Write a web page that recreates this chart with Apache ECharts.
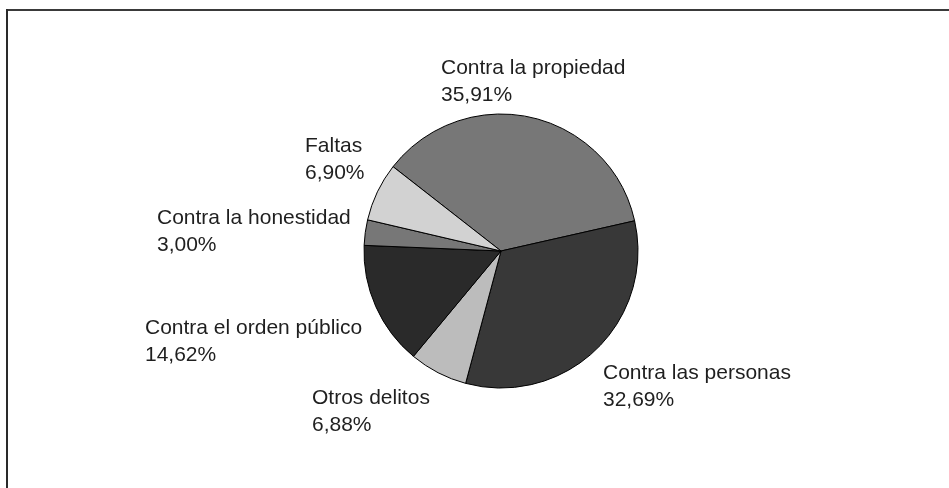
<!DOCTYPE html>
<html>
<head>
<meta charset="utf-8">
<script src="https://cdn.jsdelivr.net/npm/echarts@6/dist/echarts.min.js"></script>
<style>
html,body{margin:0;padding:0;background:#fff;}
#chart{width:949px;height:488px;}
</style>
</head>
<body>
<div id="chart"></div>
<script>
// Data
const categories = ['Contra la propiedad', 'Contra las personas', 'Otros delitos', 'Contra el orden público', 'Contra la honestidad', 'Faltas'];
const values = [35.91, 32.69, 6.88, 14.62, 3.00, 6.90];

// Styling (kept separate from data)
const colors = ['#777777', '#383838', '#bcbcbc', '#2a2a2a', '#777777', '#d2d2d2'];
const labelAnchors = [[441, 81.5], [603, 386.5], [312, 411.5], [145, 341.5], [157, 231.5], [305, 159.5]];

const chart = echarts.init(document.getElementById('chart'), null, {renderer: 'canvas'});
chart.setOption({
  animation: false,
  backgroundColor: '#ffffff',
  graphic: [
    {type: 'line', shape: {x1: 7, y1: 10, x2: 949, y2: 10}, style: {stroke: '#3a3a3a', lineWidth: 2}},
    {type: 'line', shape: {x1: 7, y1: 9, x2: 7, y2: 488}, style: {stroke: '#2a2a2a', lineWidth: 2}}
  ],
  series: [{
    type: 'pie',
    center: [501, 251],
    radius: 137,
    startAngle: 142,
    clockwise: true,
    silent: true,
    itemStyle: {borderColor: '#000', borderWidth: 1},
    label: {
      show: true,
      position: 'outside',
      color: '#1f1f1f',
      fontFamily: 'Liberation Sans, Arial, sans-serif',
      fontSize: 21,
      lineHeight: 27,
      align: 'left',
      formatter: function (p) {
        return p.name + '\n' + p.value.toFixed(2).replace('.', ',') + '%';
      }
    },
    labelLine: {show: false},
    labelLayout: function (params) {
      const a = labelAnchors[params.dataIndex];
      return {x: a[0], y: a[1], align: 'left', verticalAlign: 'middle'};
    },
    data: categories.map((c, i) => ({name: c, value: values[i], itemStyle: {color: colors[i]}}))
  }]
});
</script>
</body>
</html>
